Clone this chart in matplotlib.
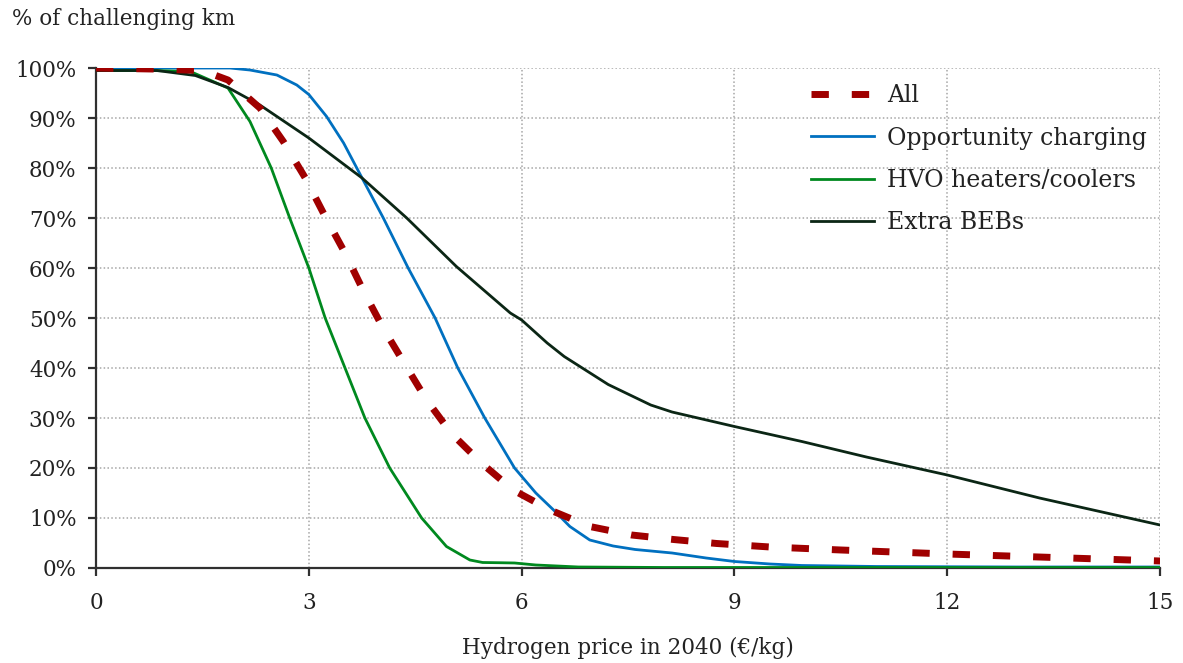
import matplotlib
matplotlib.use("Agg")
import matplotlib.pyplot as plt
from matplotlib.ticker import FuncFormatter

plt.rcParams['font.family'] = ['DejaVu Serif']

# Hydrogen price (EUR/kg) vs share of challenging km (%)
all_x = [0, 0.8, 1.5, 1.86, 2.31, 2.64, 2.95, 3.23, 3.51, 3.77, 4.05, 4.36, 4.66,
         5.01, 5.44, 5.88, 6.4, 6.96, 7.55, 8.14, 8.75, 9.5, 10.5, 12, 13.5, 15]
all_y = [100, 99.8, 99.5, 97.6, 92, 85.3, 78, 70.3, 63, 55.4, 47.9, 40.6, 33.6,
         26.9, 20.9, 15.6, 11.6, 8.3, 6.6, 5.7, 4.9, 4.2, 3.6, 2.8, 2.1, 1.4]

opp_x = [0, 1.0, 1.89, 2.17, 2.55, 2.83, 3.0, 3.25, 3.49, 3.75, 4.05, 4.4, 4.78,
         5.1, 5.48, 5.9, 6.2, 6.45, 6.68, 6.96, 7.29, 7.6, 8.12, 8.6, 9.0, 9.5,
         9.95, 11, 13, 15]
opp_y = [100, 100, 100, 99.6, 98.6, 96.6, 94.7, 90.3, 85, 78, 70, 60, 50,
         40, 30, 20, 15, 11.6, 8.3, 5.6, 4.4, 3.7, 3.0, 2.0, 1.3, 0.8,
         0.5, 0.3, 0.2, 0.2]

hvo_x = [0, 0.8, 1.33, 1.86, 2.17, 2.47, 2.73, 3.0, 3.23, 3.51, 3.79, 4.14, 4.59,
         4.94, 5.27, 5.45, 5.7, 5.9, 6.2, 6.8, 8, 10, 12, 15]
hvo_y = [99.5, 99.5, 99.3, 96, 89.3, 80, 70, 60, 50, 40, 30, 20, 10,
         4.3, 1.6, 1.1, 1.05, 1.0, 0.6, 0.2, 0.1, 0.1, 0.1, 0.1]

beb_x = [0, 0.86, 1.4, 1.86, 2.31, 3.0, 3.75, 4.38, 5.08, 5.84, 6.0, 6.36, 6.6,
         7.22, 7.82, 8.12, 9.0, 9.95, 10.86, 12.0, 13.3, 15]
beb_y = [99.5, 99.5, 98.5, 96.1, 92.6, 86, 78, 70, 60.3, 51, 49.6, 45, 42.3,
         36.7, 32.6, 31.2, 28.3, 25.3, 22.2, 18.6, 14, 8.6]

x_ticks = [0, 3, 6, 9, 12, 15]
y_ticks = list(range(0, 101, 10))

fig = plt.figure(figsize=(11.83, 6.63), dpi=100)
ax = fig.add_axes([0.0812, 0.1433, 0.8994, 0.7541])

ax.plot(all_x, all_y, color='#A00000', lw=5, dashes=(2.5, 3.3), label='All', zorder=4)
ax.plot(opp_x, opp_y, color='#0070C0', lw=2, label='Opportunity charging', zorder=3)
ax.plot(hvo_x, hvo_y, color='#00891F', lw=2, label='HVO heaters/coolers', zorder=3)
ax.plot(beb_x, beb_y, color='#0B2615', lw=2, label='Extra BEBs', zorder=3)

ax.set_xlim(0, 15)
ax.set_ylim(0, 100)
ax.set_xticks(x_ticks)
ax.set_yticks(y_ticks)
ax.yaxis.set_major_formatter(FuncFormatter(lambda v, p: f"{v:.0f}%"))

# Dotted grid, only left and bottom axis lines
ax.grid(True, color='#A6A6A6', linestyle=(0, (1, 1.5)), linewidth=1.1, zorder=0)
ax.set_axisbelow(True)
for side in ['top', 'right']:
    ax.spines[side].set_visible(False)
for side in ['left', 'bottom']:
    ax.spines[side].set_color('#303030')
    ax.spines[side].set_linewidth(1.6)
ax.tick_params(axis='both', direction='out', length=6, width=1.6, color='#303030',
               labelsize=15.5, labelcolor='#222222')
ax.tick_params(axis='y', pad=8)
ax.tick_params(axis='x', pad=11)

ax.set_xlabel('Hydrogen price in 2040 (€/kg)', fontsize=15.5, color='#222222', labelpad=17)
fig.text(0.010, 0.962, '% of challenging km', fontsize=15.5, color='#222222', va='baseline')

leg = ax.legend(loc='upper right', bbox_to_anchor=(1.008, 1.01), frameon=False,
                fontsize=17, handlelength=2.7, handletextpad=0.55, labelspacing=0.82)
for t in leg.get_texts():
    t.set_color('#222222')

fig.savefig('out.png', dpi=100)
